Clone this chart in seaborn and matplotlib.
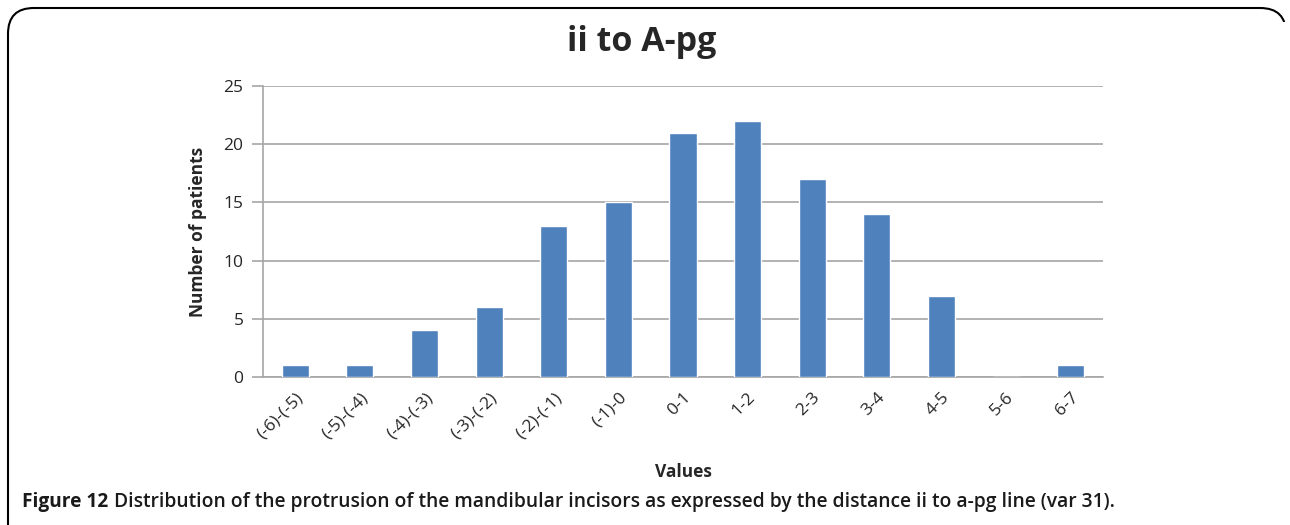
import numpy as np
import pandas as pd
import seaborn as sns
import matplotlib.pyplot as plt
from matplotlib.patches import FancyBboxPatch, Rectangle

categorias = ['(-6)-(-5)', '(-5)-(-4)', '(-4)-(-3)', '(-3)-(-2)', '(-2)-(-1)', '(-1)-0',
              '0-1', '1-2', '2-3', '3-4', '4-5', '5-6', '6-7']
pacientes = [1, 1, 4, 6, 13, 15, 21, 22, 17, 14, 7, 0, 1]

df = pd.DataFrame({'valores': categorias, 'pacientes': pacientes})

sns.set_style('white')
plt.rcParams['font.family'] = ['Open Sans', 'DejaVu Sans']

fig = plt.figure(figsize=(12.9, 5.25), dpi=100)
ax = fig.add_axes([263 / 1290, 1 - 377 / 525, (1103 - 263) / 1290, (377 - 86) / 525])

sns.barplot(data=df, x='valores', y='pacientes', color='#4F81BD', width=0.42,
            saturation=1, ax=ax, zorder=3)

ax.set_ylim(0, 25)
ax.set_yticks(range(0, 26, 5))
ax.yaxis.grid(True, color='#A6A6A6', linewidth=1.2, zorder=0)
ax.tick_params(axis='y', length=8, width=1.2, color='#A6A6A6', labelsize=12.5,
               labelcolor='#262626', pad=6, left=True)
ax.tick_params(axis='x', length=0, labelsize=12.5, labelcolor='#262626', pad=9)
plt.setp(ax.get_xticklabels(), rotation=45, ha='right', rotation_mode='anchor')

for s in ['top', 'right']:
    ax.spines[s].set_visible(False)
ax.spines['left'].set_color('#A6A6A6')
ax.spines['bottom'].set_color('#A6A6A6')
ax.spines['left'].set_linewidth(1.2)
ax.spines['bottom'].set_linewidth(1.2)

ax.set_xlabel('Values', fontsize=12.5, fontweight='bold', labelpad=15)
ax.set_ylabel('Number of patients', fontsize=12.5, fontweight='bold', labelpad=12)

fig.text(642 / 1290, 1 - 42 / 525, 'ii to A-pg', ha='center', va='center',
         fontsize=24.5, fontweight='bold', color='#262626')

# moldura arredondada (lado direito so no canto de cima)
moldura = FancyBboxPatch((8 / 1290, -0.05), 1278 / 1290, 1 - 8 / 525 + 0.05,
                         boxstyle='round,pad=0,rounding_size=0.02',
                         transform=fig.transFigure, fill=False, edgecolor='black',
                         linewidth=1.5, mutation_aspect=1290 / 525, zorder=0)
fig.patches.append(moldura)
fig.patches.append(Rectangle((1278 / 1290, 0), 12 / 1290, 1 - 22 / 525,
                             transform=fig.transFigure, facecolor='white',
                             edgecolor='none', zorder=1))

# legenda da figura
fig.text(22 / 1290, 1 - 502 / 525, 'Figure 12', ha='left', va='center',
         fontsize=13.8, fontweight='bold', color='#1a1a1a')
fig.text(114 / 1290, 1 - 502 / 525,
         'Distribution of the protrusion of the mandibular incisors as expressed by the distance ii to a-pg line (var 31).',
         ha='left', va='center', fontsize=13.9, fontweight='semibold', color='#1a1a1a')

plt.savefig('out.png', dpi=100)
